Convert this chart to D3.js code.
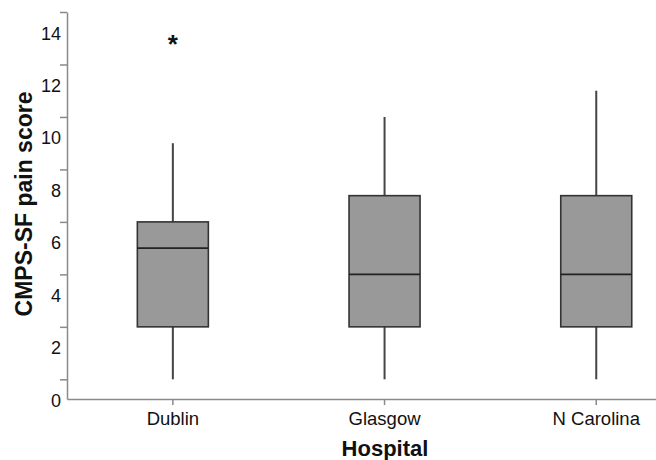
<!DOCTYPE html>
<html>
<head>
<meta charset="utf-8">
<script src="https://d3js.org/d3.v7.min.js"></script>
<style>
    body { margin: 0; background: #fff; }
    svg text { font-family: "Liberation Sans", Arial, sans-serif; fill: #111; }
</style>
</head>
<body>
<div id="chart"></div>
<script>
    // box plot summaries
    var hospitals = ["Dublin", "Glasgow", "N Carolina"];
    var whiskerLow = [1, 1, 1];
    var q1 = [3, 3, 3];
    var median = [6, 5, 5];
    var q3 = [7, 8, 8];
    var whiskerHigh = [10, 11, 12];
    var outliers = [{hospital: "Dublin", value: 14}];

    var labelTicks = [0, 2, 4, 6, 8, 10, 12, 14];
    var minorTicks = [1, 3, 5, 7, 9, 11, 13, 15];

    var width = 656, height = 460;
    var plotLeft = 67, plotBottom = 399, plotTop = 12;

    const svg = d3.select("#chart").append("svg")
        .attr("width", width)
        .attr("height", height);

    var x = d3.scaleBand()
        .domain(hospitals)
        .range([plotLeft, plotLeft + 3 * 211.7]);

    var y = d3.scaleLinear()
        .domain([0.25, 15])
        .range([plotBottom, plotTop]);

    var boxW = 71;

    var data = hospitals.map((h, i) => ({
        name: h, lo: whiskerLow[i], q1: q1[i], med: median[i], q3: q3[i], hi: whiskerHigh[i]
    }));

    // x axis
    const xAxis = svg.append("g")
        .attr("transform", `translate(0,${plotBottom})`)
        .call(d3.axisBottom(x).tickSize(6).tickSizeOuter(0).tickPadding(7));
    xAxis.select(".domain").attr("stroke", "#8a8a8a").attr("stroke-width", 1.5);
    xAxis.selectAll(".tick line").attr("stroke", "#8a8a8a").attr("stroke-width", 1.5);
    xAxis.selectAll(".tick text")
        .attr("font-size", "18.5px")
        .attr("fill", "#111");

    // y axis: odd ticks are marks only, even values carry labels
    const yAxis = svg.append("g")
        .attr("transform", `translate(${plotLeft},0)`)
        .call(d3.axisLeft(y).tickValues(minorTicks).tickSize(7).tickSizeOuter(0).tickFormat(""));
    yAxis.select(".domain").attr("stroke", "#8a8a8a").attr("stroke-width", 1.5);
    yAxis.selectAll(".tick line").attr("stroke", "#8a8a8a").attr("stroke-width", 1.5);

    svg.append("g")
        .selectAll("text")
        .data(labelTicks)
        .join("text")
        .attr("x", plotLeft - 6)
        .attr("y", d => y(d) - 5)
        .attr("dy", "0.35em")
        .attr("text-anchor", "end")
        .attr("font-size", "18px")
        .text(d => d);

    // boxes
    const box = svg.append("g")
        .selectAll("g")
        .data(data)
        .join("g")
        .attr("transform", d => `translate(${x(d.name) + x.bandwidth() / 2},0)`);

    box.append("line")
        .attr("y1", d => y(d.hi))
        .attr("y2", d => y(d.q3))
        .attr("stroke", "#444")
        .attr("stroke-width", 2);

    box.append("line")
        .attr("y1", d => y(d.q1))
        .attr("y2", d => y(d.lo))
        .attr("stroke", "#444")
        .attr("stroke-width", 2);

    box.append("rect")
        .attr("x", -boxW / 2)
        .attr("width", boxW)
        .attr("y", d => y(d.q3))
        .attr("height", d => y(d.q1) - y(d.q3))
        .attr("fill", "#999999")
        .attr("stroke", "#333")
        .attr("stroke-width", 1.6);

    box.append("line")
        .attr("x1", -boxW / 2)
        .attr("x2", boxW / 2)
        .attr("y1", d => y(d.med))
        .attr("y2", d => y(d.med))
        .attr("stroke", "#222")
        .attr("stroke-width", 1.6);

    // extreme values
    svg.append("g")
        .selectAll("text")
        .data(outliers)
        .join("text")
        .attr("x", d => x(d.hospital) + x.bandwidth() / 2)
        .attr("y", d => y(d.value))
        .attr("dy", "0.58em")
        .attr("text-anchor", "middle")
        .attr("font-size", "26px")
        .attr("font-weight", "bold")
        .text("*");

    // axis titles
    svg.append("text")
        .attr("x", 385)
        .attr("y", 456)
        .attr("text-anchor", "middle")
        .attr("font-size", "22px")
        .attr("font-weight", "bold")
        .text("Hospital");

    svg.append("text")
        .attr("transform", "translate(32,204) rotate(-90)")
        .attr("text-anchor", "middle")
        .attr("font-size", "23px")
        .attr("font-weight", "bold")
        .text("CMPS-SF pain score");
</script>
</body>
</html>
